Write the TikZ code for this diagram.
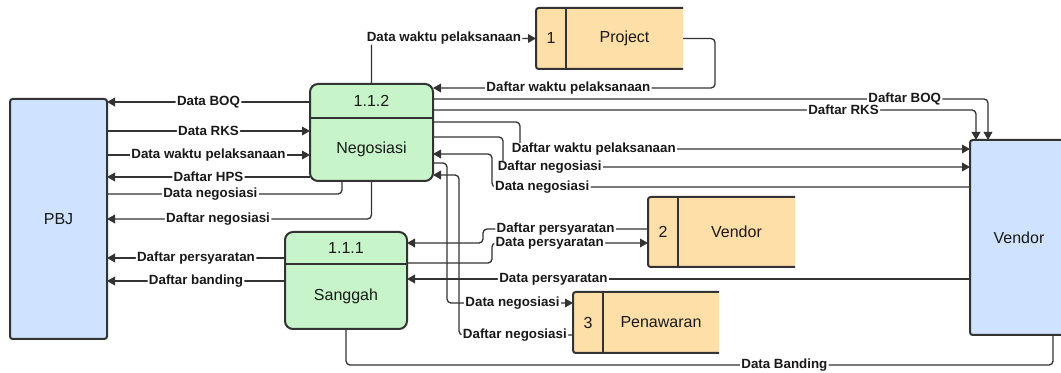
\documentclass[tikz,border=0pt]{standalone}
\usepackage{fontspec}
\setmainfont{Liberation Sans}
\usetikzlibrary{arrows.meta}

\definecolor{linec}{HTML}{333333}
\definecolor{entfill}{HTML}{CFE2FF}
\definecolor{procfill}{HTML}{C7F5C9}
\definecolor{storefill}{HTML}{FFDFA8}

\tikzset{every picture/.style={line width=0.75pt}}
\tikzset{
  ent/.style={draw=linec, fill=entfill, line width=1.5pt, rounded corners=2pt, inner sep=0pt, outer sep=0pt, font=\fontsize{12}{14}\selectfont, text=black!90},
  proc/.style={draw=linec, fill=procfill, line width=1.5pt, rounded corners=6pt, inner sep=0pt, outer sep=0pt},
  store/.style={fill=storefill, rounded corners=2pt, inner sep=0pt, outer sep=0pt},
  storeline/.style={draw=linec, line width=1.5pt},
  boxtxt/.style={font=\fontsize{12}{14}\selectfont, text=black!90, inner sep=0pt},
  flow/.style={draw=linec, line width=1pt, rounded corners=3pt},
  arr/.style={-{Triangle[length=6pt,width=6.5pt]}},
  lbl/.style={fill=white, font=\bfseries\fontsize{10}{12}\selectfont, text=black!90, inner xsep=1pt, inner ysep=0pt}
}

\begin{document}
\begin{tikzpicture}[x=0.75pt,y=0.75pt,yscale=-1,xscale=1]
\useasboundingbox (0,0) rectangle (1061,373);

%Shape: Rectangle [id:pbj]
\node[ent, minimum width=72.75pt, minimum height=180pt] (pbj) at (58.5,219) {PBJ};
%Shape: Rectangle [id:vendor]
\node[ent, minimum width=73.5pt, minimum height=146.25pt] (vendor) at (1019,237.5) {Vendor};

%Shape: Process [id:neg]
\node[proc, minimum width=92.25pt, minimum height=72.75pt] (neg) at (371.5,132.5) {};
\draw[storeline] (neg.west |- 0,118) -- (neg.east |- 0,118);
% Text Node
\node[boxtxt] (negnum) at (371.5,101) {1.1.2};
\node[boxtxt] (negname) at (371.5,149.5) {Negosiasi};

%Shape: Process [id:san]
\node[proc, minimum width=91.5pt, minimum height=72.75pt] (san) at (346,280.5) {};
\draw[storeline] (san.west |- 0,264) -- (san.east |- 0,264);
% Text Node
\node[boxtxt] (sannum) at (346,248) {1.1.1};
\node[boxtxt] (sanname) at (346,296.5) {Sanggah};

%Shape: Data Store [id:proj]
\node[store, minimum width=110.25pt, minimum height=45.75pt] (proj) at (609.5,38.5) {};
\draw[storeline, rounded corners=2pt] (proj.north east) -- (proj.north west) -- (proj.south west) -- (proj.south east);
\draw[storeline] (proj.north west -| 566,0) -- (proj.south west -| 566,0);
% Text Node
\node[boxtxt] (projnum) at (551,38.5) {1};
\node[boxtxt] (projname) at (624.5,38.5) {Project};

%Shape: Data Store [id:vst]
\node[store, minimum width=110.25pt, minimum height=52.5pt] (vst) at (721.5,232) {};
\draw[storeline, rounded corners=2pt] (vst.north east) -- (vst.north west) -- (vst.south west) -- (vst.south east);
\draw[storeline] (vst.north west -| 678,0) -- (vst.south west -| 678,0);
% Text Node
\node[boxtxt] (vstnum) at (663,232) {2};
\node[boxtxt] (vstname) at (736.5,232) {Vendor};

%Shape: Data Store [id:pen]
\node[store, minimum width=109.5pt, minimum height=45.75pt] (pen) at (646,322.5) {};
\draw[storeline, rounded corners=2pt] (pen.north east) -- (pen.north west) -- (pen.south west) -- (pen.south east);
\draw[storeline] (pen.north west -| 603,0) -- (pen.south west -| 603,0);
% Text Node
\node[boxtxt] (pennum) at (588,322.5) {3};
\node[boxtxt] (penname) at (661,322.5) {Penawaran};

%Straight Lines: PBJ <-> Negosiasi
\draw[flow, arr] (neg.west |- 0,102) -- node[lbl]{Data BOQ} (pbj.east |- 0,102);
\draw[flow, arr] (pbj.east |- 0,131) -- node[lbl]{Data RKS} (neg.west |- 0,131);
\draw[flow, arr] (pbj.east |- 0,155) -- node[lbl]{Data waktu pelaksanaan} (neg.west |- 0,155);
\draw[flow, arr] (neg.west |- 0,177) -- node[lbl]{Daftar HPS} (pbj.east |- 0,177);
\draw[flow] (pbj.east |- 0,194) -- node[lbl, pos=.44]{Data negosiasi} (342,194) -- (neg.south -| 342,0);
\draw[flow, arr] (neg.south) |- node[lbl, pos=.79]{Daftar negosiasi} (pbj.east |- 0,219);

%Straight Lines: PBJ <-> Sanggah
\draw[flow, arr] (san.west |- 0,258) -- node[lbl]{Daftar persyaratan} (pbj.east |- 0,258);
\draw[flow, arr] (san.west |- 0,281) -- node[lbl]{Daftar banding} (pbj.east |- 0,281);

%Straight Lines: Negosiasi <-> Project
\draw[flow, arr] (neg.north) |- node[lbl, pos=.72]{Data waktu pelaksanaan} (proj.west);
\draw[flow, arr] (proj.east) -- ++(32,0) |- node[lbl, pos=.76]{Daftar waktu pelaksanaan} (neg.east |- 0,88);

%Straight Lines: Negosiasi <-> Vendor
\draw[flow, arr] (neg.east |- 0,99) -| node[lbl, pos=.425]{Daftar BOQ} (vendor.north west -| 988,0);
\draw[flow, arr] (neg.east |- 0,110) -| node[lbl, pos=.378]{Daftar RKS} (vendor.north west -| 976,0);
\draw[flow, arr] (neg.east |- 0,122) -| (520,149) -- node[lbl, pos=.164]{Daftar waktu pelaksanaan} (vendor.west |- 0,149);
\draw[flow, arr] (neg.east |- 0,137) -| (503,167) -- node[lbl, pos=.10]{Daftar negosiasi} (vendor.west |- 0,167);
\draw[flow, arr] (vendor.west |- 0,187) -- node[lbl, pos=.895]{Data negosiasi} (492,187) |- (neg.east |- 0,154);

%Straight Lines: Negosiasi <-> Penawaran
\draw[flow, arr] (neg.east |- 0,163) -| (447,303) -- node[lbl, pos=.52]{Data negosiasi} (pen.west |- 0,303);
\draw[flow, arr] (pen.west |- 0,335) -- node[lbl, pos=.51]{Daftar negosiasi} (459,335) |- (neg.east |- 0,175);

%Straight Lines: Sanggah <-> Vendor
\draw[flow, arr] (vst.west |- 0,229) -- node[lbl, pos=.56]{Daftar persyaratan} (483,229) |- (san.east |- 0,243);
\draw[flow, arr] (san.east |- 0,263) -| (492,243) -- node[lbl, pos=.37]{Data persyaratan} (vst.west |- 0,243);
\draw[flow, arr] (vendor.west |- 0,279) -- node[lbl, pos=.74]{Data persyaratan} (san.east |- 0,279);
\draw[flow] (san.south) |- node[lbl, pos=.81]{Data Banding} (1053,365) -- (vendor.south -| 1053,0);

\end{tikzpicture}
\end{document}
